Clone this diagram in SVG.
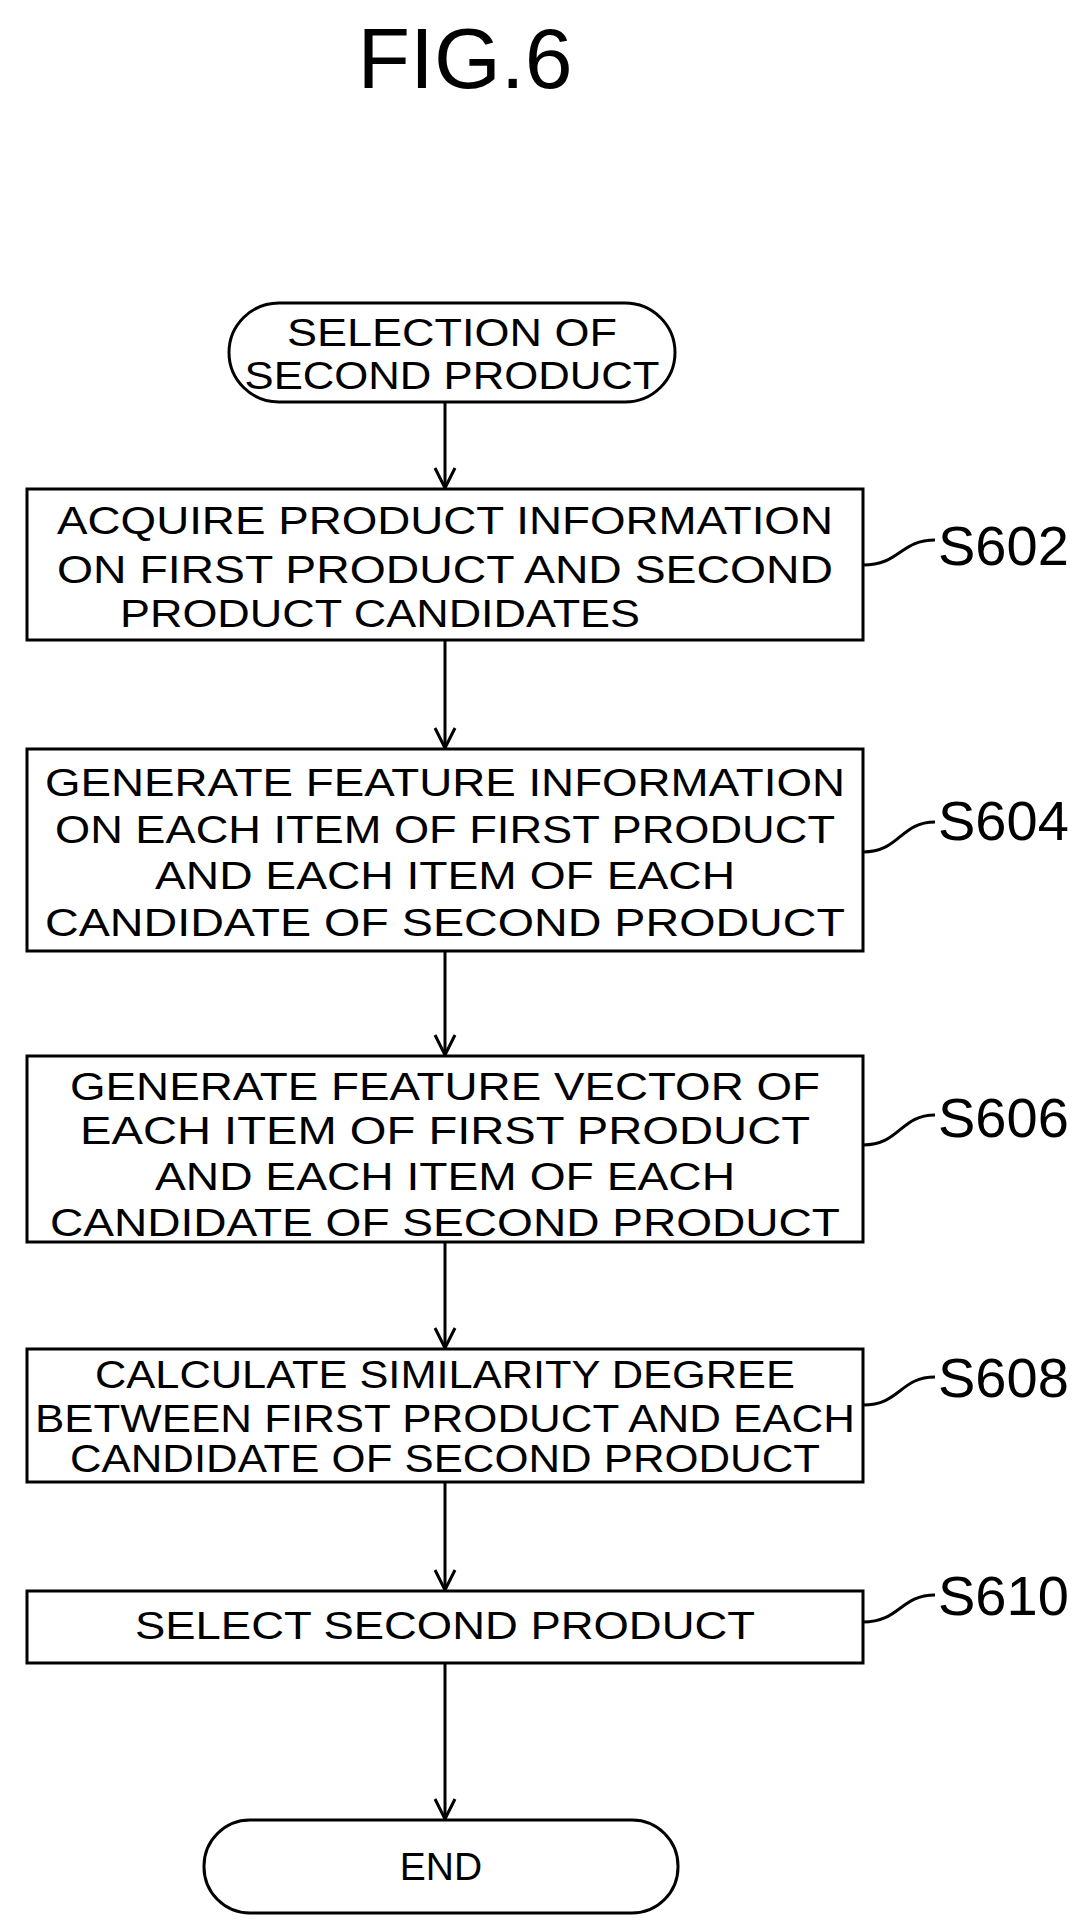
<svg xmlns="http://www.w3.org/2000/svg" width="1090" height="1932" viewBox="0 0 1090 1932">
<style>
.b{fill:#fff;stroke:#000;stroke-width:3}
.t{font-family:"Liberation Sans",Arial,sans-serif;font-size:39px;text-anchor:middle;dominant-baseline:central}
.l{font-family:"Liberation Sans",Arial,sans-serif;font-size:56px;dominant-baseline:central}
.c{fill:none;stroke:#000;stroke-width:3}
</style>
<defs><marker id="a" markerWidth="24" markerHeight="24" refX="22" refY="12" orient="auto" markerUnits="userSpaceOnUse" viewBox="0 0 24 24"><path d="M2,2 L22,12 L2,22" fill="none" stroke="#000" stroke-width="3"/></marker></defs>
<text x="465" y="58" font-family="Liberation Sans,Arial,sans-serif" font-size="86" text-anchor="middle" dominant-baseline="central">FIG.6</text>
<g id="connectors" class="c">
<line x1="445" y1="402" x2="445" y2="488" marker-end="url(#a)"/>
<line x1="445" y1="640" x2="445" y2="748" marker-end="url(#a)"/>
<line x1="445" y1="951" x2="445" y2="1055" marker-end="url(#a)"/>
<line x1="445" y1="1242" x2="445" y2="1348" marker-end="url(#a)"/>
<line x1="445" y1="1482" x2="445" y2="1590" marker-end="url(#a)"/>
<line x1="445" y1="1663" x2="445" y2="1819" marker-end="url(#a)"/>
<path d="M863,565 C900,565 900,540 935,540"/>
<path d="M863,852 C900,852 900,822 935,822"/>
<path d="M863,1145 C900,1145 900,1115 935,1115"/>
<path d="M863,1405 C900,1405 900,1377 935,1377"/>
<path d="M863,1622 C900,1622 900,1595 935,1595"/>
</g>
<g id="start"><rect class="b" x="229" y="303" width="446" height="99" rx="50"/>
<text class="t" x="452" y="332" textLength="330" lengthAdjust="spacingAndGlyphs">SELECTION OF</text><text class="t" x="452" y="375" textLength="415" lengthAdjust="spacingAndGlyphs">SECOND PRODUCT</text></g>
<g id="s602"><rect class="b" x="27" y="489" width="836" height="151"/>
<text class="t" x="445" y="520" textLength="776" lengthAdjust="spacingAndGlyphs">ACQUIRE PRODUCT INFORMATION</text>
<text class="t" x="445" y="569" textLength="776" lengthAdjust="spacingAndGlyphs">ON FIRST PRODUCT AND SECOND</text>
<text class="t" x="380" y="613" textLength="520" lengthAdjust="spacingAndGlyphs">PRODUCT CANDIDATES</text>
<text class="l" x="938" y="545">S602</text></g>
<g id="s604"><rect class="b" x="27" y="749" width="836" height="202"/>
<text class="t" x="445" y="782" textLength="800" lengthAdjust="spacingAndGlyphs">GENERATE FEATURE INFORMATION</text>
<text class="t" x="445" y="829" textLength="780" lengthAdjust="spacingAndGlyphs">ON EACH ITEM OF FIRST PRODUCT</text>
<text class="t" x="445" y="875" textLength="580" lengthAdjust="spacingAndGlyphs">AND EACH ITEM OF EACH</text>
<text class="t" x="445" y="922" textLength="800" lengthAdjust="spacingAndGlyphs">CANDIDATE OF SECOND PRODUCT</text>
<text class="l" x="938" y="820">S604</text></g>
<g id="s606"><rect class="b" x="27" y="1056" width="836" height="186"/>
<text class="t" x="445" y="1086" textLength="750" lengthAdjust="spacingAndGlyphs">GENERATE FEATURE VECTOR OF</text>
<text class="t" x="445" y="1130" textLength="730" lengthAdjust="spacingAndGlyphs">EACH ITEM OF FIRST PRODUCT</text>
<text class="t" x="445" y="1176" textLength="580" lengthAdjust="spacingAndGlyphs">AND EACH ITEM OF EACH</text>
<text class="t" x="445" y="1222" textLength="790" lengthAdjust="spacingAndGlyphs">CANDIDATE OF SECOND PRODUCT</text>
<text class="l" x="938" y="1117">S606</text></g>
<g id="s608"><rect class="b" x="27" y="1349" width="836" height="133"/>
<text class="t" x="445" y="1374" textLength="700" lengthAdjust="spacingAndGlyphs">CALCULATE SIMILARITY DEGREE</text>
<text class="t" x="445" y="1418" textLength="820" lengthAdjust="spacingAndGlyphs">BETWEEN FIRST PRODUCT AND EACH</text>
<text class="t" x="445" y="1458" textLength="750" lengthAdjust="spacingAndGlyphs">CANDIDATE OF SECOND PRODUCT</text>
<text class="l" x="938" y="1377">S608</text></g>
<g id="s610"><rect class="b" x="27" y="1591" width="836" height="72"/>
<text class="t" x="445" y="1625" textLength="620" lengthAdjust="spacingAndGlyphs">SELECT SECOND PRODUCT</text>
<text class="l" x="938" y="1595">S610</text></g>
<g id="end"><rect class="b" x="204" y="1820" width="474" height="93" rx="46"/>
<text class="t" x="441" y="1866">END</text></g>
</svg>
